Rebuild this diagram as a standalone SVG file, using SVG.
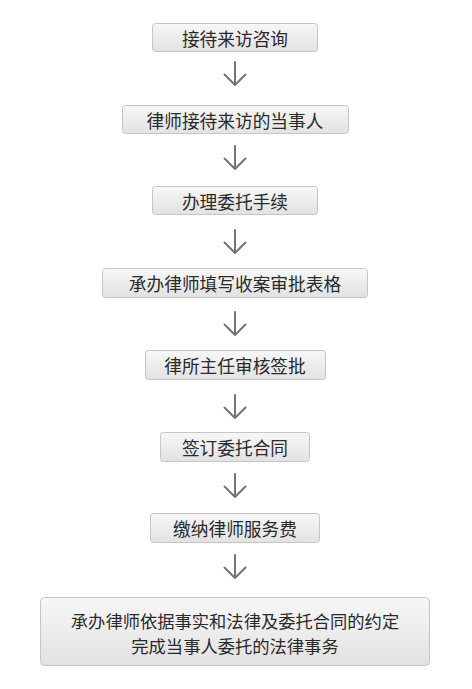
<svg xmlns="http://www.w3.org/2000/svg" width="472" height="689" viewBox="0 0 472 689">
<defs>
<linearGradient id="g" x1="0" y1="0" x2="0" y2="1">
<stop offset="0" stop-color="#f7f7f7"/>
<stop offset="1" stop-color="#e2e2e2"/>
</linearGradient>
<style>
.box{fill:url(#g);stroke:#c6c6c6;stroke-width:1}
.t{font-family:"Noto Sans CJK SC","Noto Sans",sans-serif;font-size:17.7px;fill:#2a2a2a;text-anchor:middle;dominant-baseline:central}
.t2{font-size:17.3px}
.a{fill:none;stroke:#747474;stroke-width:2;stroke-linecap:round;stroke-linejoin:round}
</style>
</defs>
<rect width="472" height="689" fill="#fff"/>
<g id="n1"><rect class="box" x="152.5" y="23.5" width="165" height="28" rx="3"/><text class="t" x="235" y="37.5">接待来访咨询</text></g>
<g id="n2"><rect class="box" x="122.5" y="105.5" width="226" height="28" rx="3"/><text class="t" x="235" y="119.5">律师接待来访的当事人</text></g>
<g id="n3"><rect class="box" x="152.5" y="186.5" width="165" height="28" rx="3"/><text class="t" x="235" y="200.5">办理委托手续</text></g>
<g id="n4"><rect class="box" x="102.5" y="268.5" width="265" height="29" rx="3"/><text class="t" x="235" y="283">承办律师填写收案审批表格</text></g>
<g id="n5"><rect class="box" x="145.5" y="350.5" width="180" height="29" rx="3"/><text class="t" x="235" y="365">律所主任审核签批</text></g>
<g id="n6"><rect class="box" x="160.5" y="432.5" width="149" height="29" rx="3"/><text class="t" x="235" y="447">签订委托合同</text></g>
<g id="n7"><rect class="box" x="150.5" y="513.5" width="169" height="29" rx="3"/><text class="t" x="235" y="528">缴纳律师服务费</text></g>
<g id="n8"><rect class="box" x="40.5" y="597.5" width="389" height="68" rx="4"/><text class="t t2" x="235" y="620">承办律师依据事实和法律及委托合同的约定</text><text class="t t2" x="235" y="645.5">完成当事人委托的法律事务</text></g>
<g id="connectors">
<path class="a" d="M235 62V85M224.5 74.5L235 85L245.5 74.5"/>
<path class="a" d="M235 146V169M224.5 158.5L235 169L245.5 158.5"/>
<path class="a" d="M235 230V253M224.5 242.5L235 253L245.5 242.5"/>
<path class="a" d="M235 312V335M224.5 324.5L235 335L245.5 324.5"/>
<path class="a" d="M235 395V418M224.5 407.5L235 418L245.5 407.5"/>
<path class="a" d="M235 474V497M224.5 486.5L235 497L245.5 486.5"/>
<path class="a" d="M235 555V578M224.5 567.5L235 578L245.5 567.5"/>
</g>
</svg>
